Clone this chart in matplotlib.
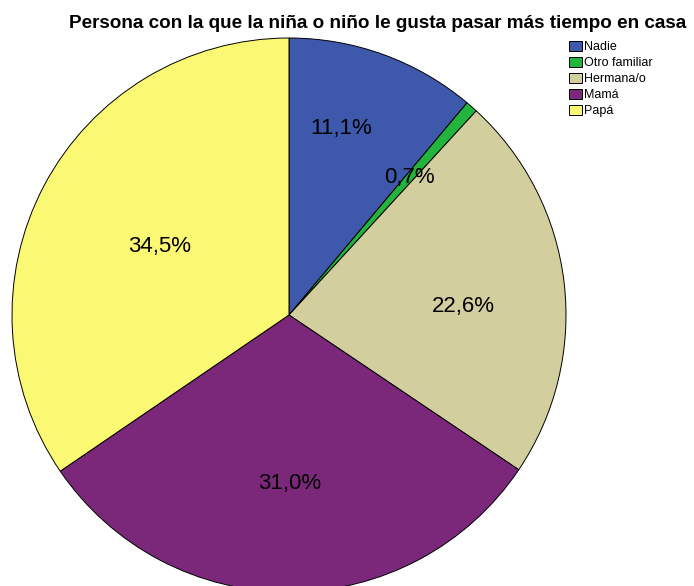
import matplotlib
matplotlib.use("Agg")
import matplotlib.pyplot as plt
import numpy as np
from matplotlib.patches import Patch

categories = ["Nadie", "Otro familiar", "Hermana/o", "Mamá", "Papá"]
values = [11.1, 0.7, 22.6, 31.0, 34.5]
labels = ["11,1%", "0,7%", "22,6%", "31,0%", "34,5%"]
colors = ["#3E58AC", "#22B43C", "#D3CE9D", "#7B287A", "#FBF873"]
label_r = [0.70, 0.66, 0.63, 0.61, 0.53]
label_frac = [0.39, 0.5, 0.55, 0.5, 0.5]

plt.rcParams['font.family'] = ['Liberation Sans', 'DejaVu Sans']
fig = plt.figure(figsize=(6.94, 5.86), dpi=100)
ax = fig.add_axes([12/694, (586-315-277)/586, 554/694, 554/586])
wedges, _ = ax.pie(values, colors=colors, startangle=90, counterclock=False,
                   radius=1, wedgeprops=dict(edgecolor="black", linewidth=0.7))
for w, lab, r, f in zip(wedges, labels, label_r, label_frac):
    # clockwise wedges: theta2 is the starting edge
    ang = np.deg2rad(w.theta2 - f * (w.theta2 - w.theta1))
    ax.text(r*np.cos(ang), r*np.sin(ang), lab, ha="center", va="center", fontsize=16)
ax.set_xlim(-1, 1)
ax.set_ylim(-1, 1)
ax.set_aspect("equal")
ax.axis("off")

fig.text(378/694, 1-24/586, "Persona con la que la niña o niño le gusta pasar más tiempo en casa",
         ha="center", va="center", fontsize=13.6, fontweight="bold")

handles = [Patch(facecolor=c, edgecolor="black", linewidth=0.7, label=l) for c, l in zip(colors, categories)]
fig.legend(handles=handles, loc="upper left", bbox_to_anchor=(566/694, 1-38/586), frameon=False,
           fontsize=9, handlelength=1.05, handleheight=0.9, handletextpad=0.2, labelspacing=0.28,
           borderaxespad=0, borderpad=0.2)
fig.savefig("out.png", dpi=100)
